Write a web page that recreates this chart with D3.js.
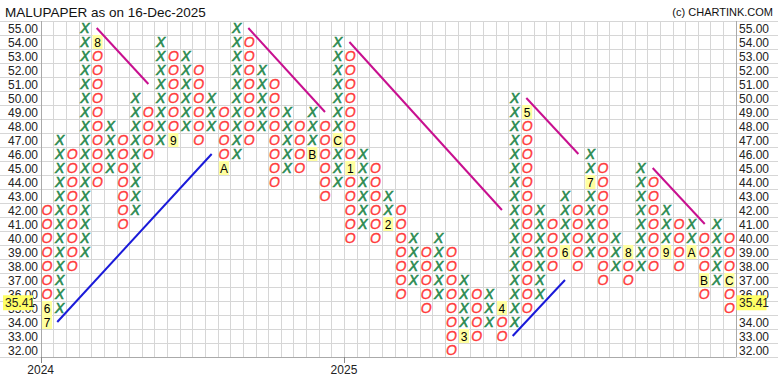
<!DOCTYPE html>
<html><head><meta charset="utf-8">
<script src="https://cdn.jsdelivr.net/npm/d3@7"></script>
<style>html,body{margin:0;padding:0;background:#fff}svg{display:block}</style>
</head><body>
<svg id="c" width="778" height="386"></svg>
<script>
// ---- data ----
const title = "MALUPAPER as on 16-Dec-2025";
const credit = "(c) CHARTINK.COM";
const colType = ["O","X","O","X","O","X","O","X","O","X","O","X","O","X","O","X","O","X","O","X","O","X","O","X","O","X","O","X","O","X","O","X","O","X","O","X","O","X","O","X","O","X","O","X","O","X","O","X","O","X","O","X","O","X","O"];
const colHigh = [42,47,46,55,54,48,47,50,49,54,53,53,52,50,49,55,54,52,51,49,48,49,48,54,53,46,45,43,42,40,39,40,39,37,36,36,35,50,49,42,41,43,42,46,45,40,39,45,44,42,41,41,40,41,40];
const colLow  = [34,35,38,39,44,45,41,42,46,47,47,48,47,48,45,46,47,48,44,45,45,46,43,44,40,41,40,41,36,37,35,36,32,33,33,34,33,34,35,36,38,39,38,39,37,38,37,38,38,39,38,39,36,37,35];
const monthCol   = [0,0,4,10,14,21,23,24,27,33,36,38,41,43,46,49,51,52,54];
const monthPrice = [35,34,54,47,45,46,47,45,41,33,35,49,39,44,39,39,39,37,37];
const monthText  = ["6","7","8","9","A","B","C","1","2","3","4","5","6","7","8","9","A","B","C"];
const priceTicks = d3.range(32, 56, 1);
const lastPrice = 35.41;
const yearCol = [0, 24];
const yearText = ["2024", "2025"];
// trend lines: [startCol, startPrice, endCol, endPrice]
const supportLines = [[1.31,34,13.53,46],[37.35,33,41.49,37]];
const resistLines  = [[4.43,55,8.52,51],[16.43,55,22.5,49],[24.43,54,36.5,42],[38.43,50,42.55,46],[48.43,45,52.55,41]];

// ---- layout ----
const svg = d3.select("#c");
const nCols = colType.length;
const x = d3.scaleLinear().domain([0, nCols]).range([40.7, 735.7]);
const y = d3.scaleLinear().domain([31.5, 55.5]).range([357, 21]);
const font = "'Liberation Sans', Arial, sans-serif";

// grid
const g = svg.append("g");
const hLines = d3.range(31.5, 56, 1);
g.selectAll("line.h").data(hLines).enter().append("line")
  .attr("x1", 0).attr("x2", 778)
  .attr("y1", d => Math.round(y(d)) + 0.5).attr("y2", d => Math.round(y(d)) + 0.5)
  .attr("stroke", "#d6d6d6").attr("stroke-width", 1);
g.selectAll("line.v").data(d3.range(0, nCols + 1)).enter().append("line")
  .attr("x1", d => Math.round(x(d)) + 0.5).attr("x2", d => Math.round(x(d)) + 0.5)
  .attr("y1", y(55.5)).attr("y2", y(31.5))
  .attr("stroke", "#d6d6d6").attr("stroke-width", 1);
// axes
g.append("line").attr("x1", Math.round(x(0)) + 0.5).attr("x2", Math.round(x(0)) + 0.5)
  .attr("y1", y(55.5)).attr("y2", y(31.5)).attr("stroke", "#aaa");
g.append("line").attr("x1", Math.round(x(nCols)) + 0.5).attr("x2", Math.round(x(nCols)) + 0.5)
  .attr("y1", y(55.5)).attr("y2", y(31.5)).attr("stroke", "#aaa");
g.append("line").attr("x1", x(0)).attr("x2", x(nCols))
  .attr("y1", Math.round(y(31.5)) + 0.5).attr("y2", Math.round(y(31.5)) + 0.5).attr("stroke", "#aaa");

// price labels (right-side 35.00 is fully hidden by the last-price box in the reference)
svg.selectAll("text.pl").data(priceTicks).enter().append("text")
  .attr("x", 38).attr("y", d => y(d) + 4.5).attr("text-anchor", "end")
  .attr("font-family", font).attr("font-size", 12).attr("fill", "#222")
  .text(d => d.toFixed(2));
svg.selectAll("text.pr").data(priceTicks.filter(d => Math.round(d) !== Math.round(lastPrice))).enter().append("text")
  .attr("x", 739).attr("y", d => y(d) + 4.5).attr("text-anchor", "start")
  .attr("font-family", font).attr("font-size", 12).attr("fill", "#222")
  .text(d => d.toFixed(2));
// last price highlight
[[3, 5], [736.5, 739]].forEach(([bx, tx]) => {
  svg.append("rect").attr("x", bx).attr("y", y(lastPrice) - 7).attr("width", 30).attr("height", 15)
    .attr("fill", "#ffff66");
  svg.append("text").attr("x", tx).attr("y", y(lastPrice) + 4.5)
    .attr("font-family", font).attr("font-size", 12).attr("fill", "#222").text(lastPrice.toFixed(2));
});

// year ticks
yearCol.forEach((c, i) => {
  svg.append("line").attr("x1", Math.round(x(c)) + 0.5).attr("x2", Math.round(x(c)) + 0.5)
    .attr("y1", y(31.5)).attr("y2", y(31.5) + 6).attr("stroke", "#888");
  svg.append("text").attr("x", x(c)).attr("y", 374).attr("text-anchor", "middle")
    .attr("font-family", font).attr("font-size", 12).attr("fill", "#222").text(yearText[i]);
});

// boxes
const monthKey = new Map(monthCol.map((c, i) => [c + "_" + monthPrice[i], monthText[i]]));
const boxes = [];
colType.forEach((t, c) => {
  for (let p = colLow[c]; p <= colHigh[c]; p++) {
    if (!monthKey.has(c + "_" + p)) boxes.push({c, p, t});
  }
});
svg.selectAll("text.box").data(boxes).enter().append("text")
  .attr("x", d => x(d.c + 0.5)).attr("y", d => y(d.p) + 5)
  .attr("text-anchor", "middle").attr("font-family", font).attr("font-size", 14)
  .attr("font-style", "italic")
  .attr("fill", d => d.t === "X" ? "#2a8a50" : "#ff3b3b")
  .attr("stroke", d => d.t === "X" ? "#2a8a50" : "#ff3b3b")
  .attr("stroke-width", d => d.t === "X" ? 0.6 : 0.35)
  .text(d => d.t);

// month markers
monthCol.forEach((c, i) => {
  svg.append("rect").attr("x", x(c + 0.5) - 5).attr("y", y(monthPrice[i]) - 7)
    .attr("width", 10).attr("height", 14).attr("fill", "#ffffa0");
  svg.append("text").attr("x", x(c + 0.5)).attr("y", y(monthPrice[i]) + 4.5)
    .attr("text-anchor", "middle").attr("font-family", font).attr("font-size", 12)
    .attr("fill", "#000").text(monthText[i]);
});

// trend lines
const drawLines = (arr, color) => svg.selectAll(null).data(arr).enter().append("line")
  .attr("x1", d => x(d[0])).attr("y1", d => y(d[1]))
  .attr("x2", d => x(d[2])).attr("y2", d => y(d[3]))
  .attr("stroke", color).attr("stroke-width", 2);
drawLines(supportLines, "#1a1ad9");
drawLines(resistLines, "#c8108f");

// title
svg.append("text").attr("x", 5).attr("y", 17).attr("font-family", font).attr("font-size", 13.5)
  .attr("fill", "#111").text(title);
svg.append("text").attr("x", 773).attr("y", 16).attr("text-anchor", "end").attr("font-family", font)
  .attr("font-size", 11).attr("fill", "#111").text(credit);
</script>
</body></html>
